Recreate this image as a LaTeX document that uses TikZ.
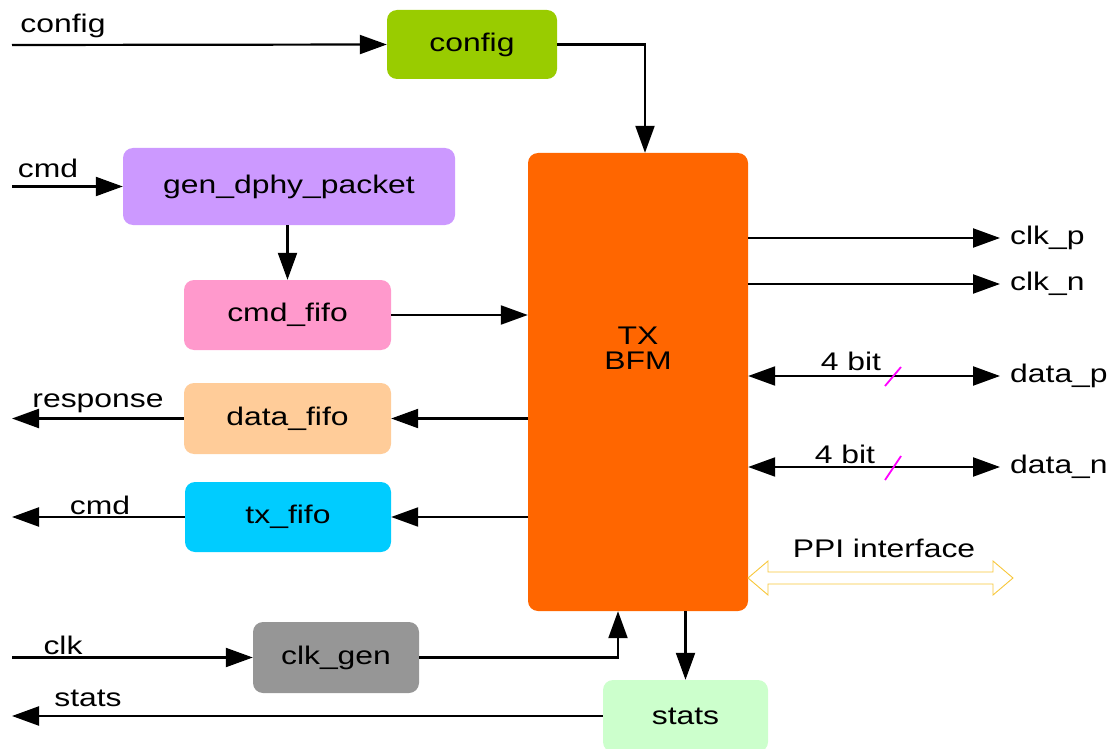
\documentclass[tikz,border=0pt]{standalone}
\usepackage{fontspec}
\setmainfont[FakeStretch=1.25]{Liberation Sans}
\usetikzlibrary{arrows.meta,calc}
\definecolor{cconfig}{HTML}{99CC00}
\definecolor{cgen}{HTML}{CC99FF}
\definecolor{ccmd}{HTML}{FF99CC}
\definecolor{cdata}{HTML}{FFCC99}
\definecolor{ctx}{HTML}{00CCFF}
\definecolor{cbfm}{HTML}{FF6600}
\definecolor{cclk}{HTML}{969696}
\definecolor{cstats}{HTML}{CCFFCC}
\definecolor{cppi}{HTML}{F8C73A}
\definecolor{cslash}{HTML}{FF00FF}
\begin{document}
\begin{tikzpicture}[x=1pt,y=-1pt,
  every node/.style={font=\fontsize{25.5}{27}\selectfont},
  blk/.style={rounded corners=10pt, inner sep=0pt, align=center},
  lbl/.style={anchor=base, inner sep=0pt},
  arr/.style={line width=2.2pt, -{Triangle[length=27pt,width=19pt]}},
  darr/.style={line width=2.2pt, {Triangle[length=27pt,width=19pt]}-{Triangle[length=27pt,width=19pt]}}]
\useasboundingbox (0,0) rectangle (1112,749);

% blocks
\node[blk, fill=cconfig, minimum width=170pt, minimum height=69pt] (config) at (472,44.5) {config};
\node[blk, fill=cgen, minimum width=332pt, minimum height=77pt] (gen) at (289,186.5) {gen\_dphy\_packet};
\node[blk, fill=ccmd, minimum width=207pt, minimum height=70pt] (cmdfifo) at (287.5,315) {cmd\_fifo};
\node[blk, fill=cdata, minimum width=207pt, minimum height=71pt] (datafifo) at (287.5,418.5) {data\_fifo};
\node[blk, fill=ctx, minimum width=206pt, minimum height=70pt] (txfifo) at (288,517) {tx\_fifo};
\node[blk, fill=cbfm, minimum width=220pt, minimum height=458pt] (bfm) at (638,382) {};
\node[align=center, inner sep=0pt, font=\fontsize{25.5}{25}\selectfont] (bfmtext) at (638,348) {TX\\BFM};
\node[blk, fill=cclk, minimum width=166pt, minimum height=71pt] (clkgen) at (336,657.5) {clk\_gen};
\node[blk, fill=cstats, minimum width=165pt, minimum height=72pt] (stats) at (685.5,716) {stats};

% free ends
\coordinate (cin) at (12,45);
\coordinate (cmdin) at (12,186.5);
\coordinate (respout) at (12,418.5);
\coordinate (cmdout) at (12,517);
\coordinate (clkin) at (12,657.5);
\coordinate (statsout) at (12,716);
\coordinate (clkp) at (1000,238);
\coordinate (clkn) at (1000,284);
\coordinate (datap) at (1000,376);
\coordinate (datan) at (1000,467);

% left connectors
\draw[arr] (cin) -- (config.west);
\node[lbl] (lconfig) at (63,33) {config};
\draw[arr] (config.east) -| ([xshift=7pt]bfm.north);
\draw[arr] (cmdin) -- (gen.west);
\node[lbl] (lcmd) at (48,178) {cmd};
\draw[arr] (gen.south -| cmdfifo.north) -- (cmdfifo.north);
\draw[arr] (cmdfifo.east) -- (cmdfifo.east -| bfm.west);
\draw[arr] (bfm.west |- datafifo.east) -- (datafifo.east);
\draw[arr] (datafifo.west) -- (respout);
\node[lbl] (lresp) at (98,407) {response};
\draw[arr] (bfm.west |- txfifo.east) -- (txfifo.east);
\draw[arr] (txfifo.west) -- (cmdout);
\node[lbl] (lcmd2) at (100,514) {cmd};
\draw[arr] (clkin) -- (clkgen.west);
\node[lbl] (lclk) at (63,654) {clk};
\draw[arr] (clkgen.east) -| ([xshift=-20pt]bfm.south);
\draw[arr] (bfm.south -| stats.north) -- (stats.north);
\draw[arr] (stats.west) -- (statsout);
\node[lbl] (lstats) at (88,706) {stats};

% right connectors
\draw[arr] (bfm.east |- clkp) -- (clkp);
\node[anchor=west, inner sep=0pt] (tclkp) at (1010,238) {clk\_p};
\draw[arr] (bfm.east |- clkn) -- (clkn);
\node[anchor=west, inner sep=0pt] (tclkn) at (1010,284) {clk\_n};
\draw[darr] (bfm.east |- datap) -- (datap);
\node[anchor=west, inner sep=0pt] (tdatap) at (1010,376) {data\_p};
\node[lbl] (b1) at (851,370) {4 bit};
\draw[cslash, line width=1.8pt] (885,386) -- (901,367);
\draw[darr] (bfm.east |- datan) -- (datan);
\node[anchor=west, inner sep=0pt] (tdatan) at (1010,467) {data\_n};
\node[lbl] (b2) at (845,463) {4 bit};
\draw[cslash, line width=1.8pt] (885,480) -- (901,456);

% PPI interface
\draw[cppi, line width=0.9pt, fill=white]
  (748,578) -- (768,561) -- (768,572) -- (993,572) -- (993,561) -- (1013,578)
  -- (993,595) -- (993,584) -- (768,584) -- (768,595) -- cycle;
\node[lbl] (ppi) at (884,557) {PPI interface};
\end{tikzpicture}
\end{document}
